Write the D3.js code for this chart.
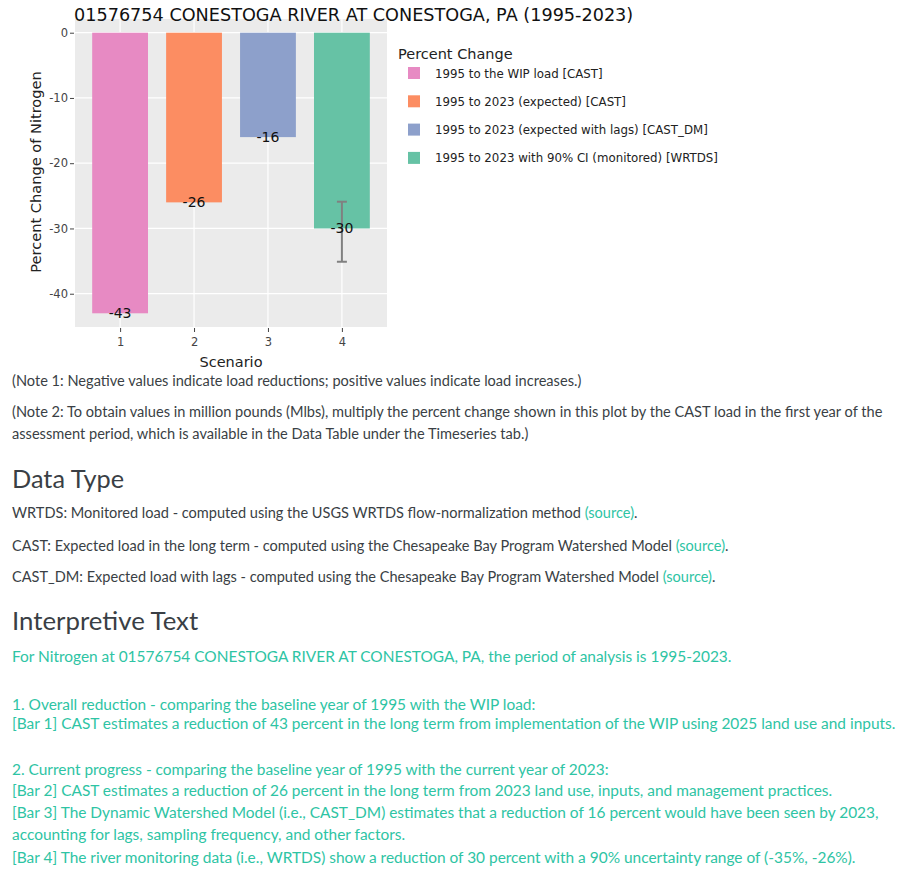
<!DOCTYPE html>
<html><head><meta charset="utf-8">
<script src="https://cdn.jsdelivr.net/npm/d3@7"></script>
<style>
body{margin:0;background:#fff;}
svg{display:block;}
</style></head>
<body>
<svg id="chart" width="900" height="884"></svg>
<script>
// ---- data ----
const scenarios = [1, 2, 3, 4];
const values = [-43, -26, -16, -30];
const labels = ["-43", "-26", "-16", "-30"];
const seriesNames = [
  "1995 to the WIP load [CAST]",
  "1995 to 2023 (expected) [CAST]",
  "1995 to 2023 (expected with lags) [CAST_DM]",
  "1995 to 2023 with 90% CI (monitored) [WRTDS]"
];
const colors = ["#e78ac3", "#fc8d62", "#8da0cb", "#66c2a5"];
const ciLow = [null, null, null, -35.1];
const ciHigh = [null, null, null, -25.9];
const yTicks = [0, -10, -20, -30, -40];
const xTicks = [1, 2, 3, 4];

const svg = d3.select("#chart");
const plotL = 75, plotR = 387, plotT = 19, plotB = 327;
const x = d3.scaleLinear().domain([0.39, 4.61]).range([plotL, plotR]);
const y = d3.scaleLinear().domain([-45.1, 2.1]).range([plotB, plotT]);
const barW = 0.755;
const tickFont = "'DejaVu Sans', Verdana, sans-serif";

// plot background
svg.append("rect").attr("x", plotL).attr("y", plotT).attr("width", plotR - plotL).attr("height", plotB - plotT).attr("fill", "#ebebeb");

// grid
svg.append("g").selectAll("line").data(yTicks).join("line")
  .attr("x1", plotL).attr("x2", plotR).attr("y1", d => y(d)).attr("y2", d => y(d))
  .attr("stroke", "#fff").attr("stroke-width", 1.2);
svg.append("g").selectAll("line").data(xTicks).join("line")
  .attr("y1", plotT).attr("y2", plotB).attr("x1", d => x(d)).attr("x2", d => x(d))
  .attr("stroke", "#fff").attr("stroke-width", 1.2);

// bars
const idx = d3.range(scenarios.length);
svg.append("g").selectAll("rect").data(idx).join("rect")
  .attr("x", i => x(scenarios[i] - barW / 2))
  .attr("width", i => x(scenarios[i] + barW / 2) - x(scenarios[i] - barW / 2))
  .attr("y", i => y(Math.max(0, values[i])))
  .attr("height", i => Math.abs(y(values[i]) - y(0)))
  .attr("fill", i => colors[i]);

// error bars
const eb = svg.append("g").attr("stroke", "#808080").attr("stroke-width", 2);
idx.filter(i => ciLow[i] !== null).forEach(i => {
  const cx = x(scenarios[i]);
  eb.append("line").attr("x1", cx).attr("x2", cx).attr("y1", y(ciHigh[i])).attr("y2", y(ciLow[i]));
  eb.append("line").attr("x1", cx - 5).attr("x2", cx + 5).attr("y1", y(ciHigh[i])).attr("y2", y(ciHigh[i]));
  eb.append("line").attr("x1", cx - 5).attr("x2", cx + 5).attr("y1", y(ciLow[i])).attr("y2", y(ciLow[i]));
});

// bar labels
svg.append("g").selectAll("text").data(idx).join("text")
  .attr("x", i => x(scenarios[i]))
  .attr("y", i => y(values[i]) + 5)
  .attr("text-anchor", "middle")
  .attr("font-family", tickFont).attr("font-size", 14).attr("fill", "#111")
  .text(i => labels[i]);

// axes
const yAxis = d3.axisLeft(y).tickValues(yTicks).tickSize(4).tickPadding(2).tickFormat(d3.format("d"));
const gy = svg.append("g").attr("transform", `translate(${plotL - 1},0)`).call(yAxis);
const xAxis = d3.axisBottom(x).tickValues(xTicks).tickSize(4).tickPadding(6).tickFormat(d3.format("d"));
const gx = svg.append("g").attr("transform", `translate(0,${plotB + 1})`).call(xAxis);
[gx, gy].forEach(g => {
  g.select(".domain").remove();
  g.selectAll(".tick line").attr("stroke", "#444");
  g.selectAll(".tick text").attr("font-family", tickFont).attr("font-size", 11.5).attr("fill", "#444");
});
gy.selectAll(".tick text").text(d => d === 0 ? "0" : "-" + Math.abs(d));

// axis titles
svg.append("text").attr("x", 231).attr("y", 367).attr("text-anchor", "middle")
  .attr("font-family", tickFont).attr("font-size", 14.5).attr("fill", "#222").text("Scenario");
svg.append("text").attr("transform", `translate(41,${(plotT + plotB) / 2 - 1}) rotate(-90)`).attr("text-anchor", "middle")
  .attr("font-family", tickFont).attr("font-size", 14.6).attr("fill", "#222").text("Percent Change of Nitrogen");

// title
svg.append("text").attr("x", 74).attr("y", 21)
  .attr("font-family", tickFont).attr("font-size", 17.65).attr("fill", "#111")
  .text("01576754 CONESTOGA RIVER AT CONESTOGA, PA (1995-2023)");

// legend
const lg = svg.append("g").attr("transform", "translate(398,0)");
lg.append("text").attr("x", 0).attr("y", 59).attr("font-family", tickFont).attr("font-size", 14.5).attr("fill", "#222").text("Percent Change");
const li = lg.selectAll("g.item").data(idx).join("g").attr("class", "item")
  .attr("transform", i => `translate(0,${73 + i * 28.3})`);
li.append("rect").attr("x", 10).attr("y", -6).attr("width", 12).attr("height", 12).attr("fill", i => colors[i]);
li.append("text").attr("x", 37).attr("y", 4.5).attr("font-family", tickFont).attr("font-size", 11.8).attr("fill", "#222").text(i => seriesNames[i]);

// ---- text below ----
const bodyFont = "Lato, 'Open Sans', sans-serif";
const dark = "#3a3f45", teal = "#2ec4a4";
function line(yy, parts, size, color) {
  const t = svg.append("text").attr("x", 12).attr("y", yy).attr("font-family", bodyFont).attr("font-size", size).attr("fill", color);
  parts.forEach(p => {
    if (typeof p === "string") t.append("tspan").text(p);
    else t.append("tspan").attr("fill", p.c).text(p.t);
  });
  return t;
}
const notes = [
  [386, "(Note 1: Negative values indicate load reductions; positive values indicate load increases.)"],
  [417, "(Note 2: To obtain values in million pounds (Mlbs), multiply the percent change shown in this plot by the CAST load in the first year of the"],
  [439, "assessment period, which is available in the Data Table under the Timeseries tab.)"]
];
notes.forEach(n => line(n[0], [n[1]], 14.6, dark));
line(488, ["Data Type"], 25.3, dark);
line(518, ["WRTDS: Monitored load - computed using the USGS WRTDS flow-normalization method ", {t: "(source)", c: teal}, "."], 14.55, dark);
line(551, ["CAST: Expected load in the long term - computed using the Chesapeake Bay Program Watershed Model ", {t: "(source)", c: teal}, "."], 14.55, dark);
line(582, ["CAST_DM: Expected load with lags - computed using the Chesapeake Bay Program Watershed Model ", {t: "(source)", c: teal}, "."], 14.55, dark);
line(630, ["Interpretive Text"], 25.8, dark);
const interp = [
  [662, "For Nitrogen at 01576754 CONESTOGA RIVER AT CONESTOGA, PA, the period of analysis is 1995-2023."],
  [710, "1. Overall reduction - comparing the baseline year of 1995 with the WIP load:"],
  [729, "[Bar 1] CAST estimates a reduction of 43 percent in the long term from implementation of the WIP using 2025 land use and inputs."],
  [775, "2. Current progress - comparing the baseline year of 1995 with the current year of 2023:"],
  [796, "[Bar 2] CAST estimates a reduction of 26 percent in the long term from 2023 land use, inputs, and management practices."],
  [818, "[Bar 3] The Dynamic Watershed Model (i.e., CAST_DM) estimates that a reduction of 16 percent would have been seen by 2023,"],
  [840, "accounting for lags, sampling frequency, and other factors."],
  [863, "[Bar 4] The river monitoring data (i.e., WRTDS) show a reduction of 30 percent with a 90% uncertainty range of (-35%, -26%)."]
];
interp.forEach(n => line(n[0], [n[1]], 15.45, teal));
</script>
</body></html>
